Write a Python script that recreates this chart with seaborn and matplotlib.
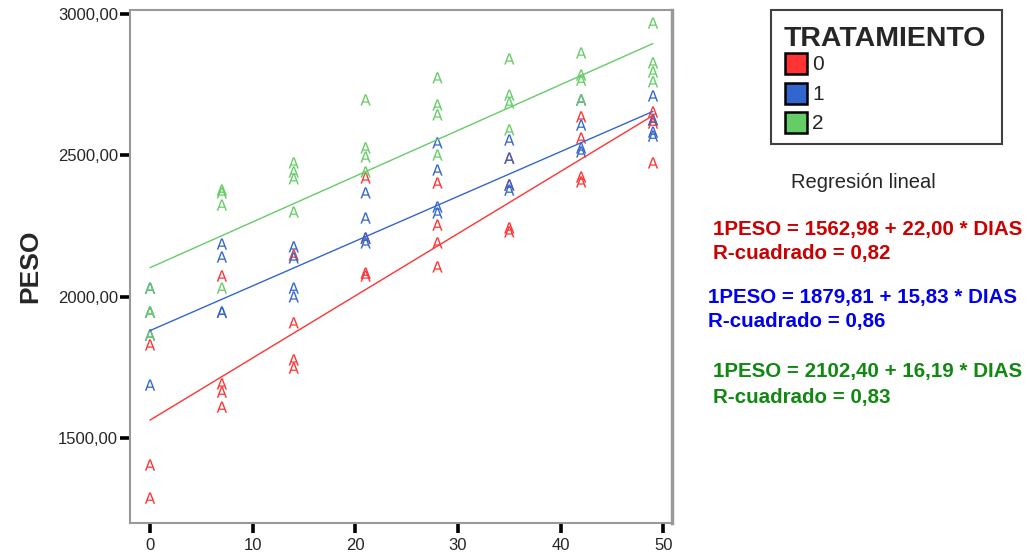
import pandas as pd
import numpy as np
import matplotlib
matplotlib.use('Agg')
import matplotlib.pyplot as plt
from matplotlib.patches import Rectangle
import seaborn as sns

# dias de medicion
dias = [0, 7, 14, 21, 28, 35, 42, 49]

# PESO, una lista por dia
peso_t0 = [
    [1829, 1404, 1287],
    [2073, 1691, 1662, 1609],
    [2147, 1907, 1776, 1747],
    [2420, 2207, 2083, 2073],
    [2402, 2253, 2190, 2105],
    [2490, 2395, 2243, 2229],
    [2636, 2561, 2423, 2406],
    [2653, 2625, 2614, 2473],
]
peso_t1 = [
    [2030, 1945, 1864, 1687],
    [2186, 2140, 1945, 1945],
    [2176, 2137, 2030, 1999],
    [2367, 2278, 2207, 2190],
    [2544, 2448, 2317, 2296],
    [2554, 2490, 2395, 2377],
    [2696, 2607, 2526, 2512],
    [2710, 2625, 2582, 2568],
]
peso_t2 = [
    [2030, 1945, 1945, 1864],
    [2377, 2367, 2324, 2030],
    [2473, 2441, 2417, 2299],
    [2696, 2526, 2494, 2441],
    [2774, 2678, 2643, 2501],
    [2841, 2713, 2685, 2590],
    [2862, 2784, 2766, 2696],
    [2968, 2827, 2795, 2760],
]

tratamientos = ['0', '1', '2']
colores = ['#ff3333', '#3366cc', '#66cc66']
colores_texto = ['#cc0000', '#0000ee', '#118811']

# regresion lineal (de las ecuaciones del grafico)
intercepto = [1562.98, 1879.81, 2102.40]
pendiente = [22.00, 15.83, 16.19]

ecuaciones = ['1PESO = 1562,98 + 22,00 * DIAS',
              '1PESO = 1879,81 + 15,83 * DIAS',
              '1PESO = 2102,40 + 16,19 * DIAS']
r2_textos = ['R-cuadrado = 0,82', 'R-cuadrado = 0,86', 'R-cuadrado = 0,83']

yticks = [1500, 2000, 2500, 3000]
xticks = [0, 10, 20, 30, 40, 50]


def armarDatos():
    filas = []
    for trat, pesos in zip(tratamientos, [peso_t0, peso_t1, peso_t2]):
        for d, lista in zip(dias, pesos):
            for p in lista:
                filas.append({'DIAS': d, 'PESO': p, 'TRATAMIENTO': trat})
    return pd.DataFrame(filas)


if __name__ == "__main__":
    sns.set_style('white')
    plt.rcParams['font.family'] = ['Liberation Sans', 'DejaVu Sans']

    data = armarDatos()
    W, H = 1029, 556
    fig = plt.figure(figsize=(W / 100, H / 100), dpi=100)
    ax = fig.add_axes([130 / W, 1 - 523 / H, (672 - 130) / W, (523 - 9.5) / H])

    # lineas de regresion
    for i, trat in enumerate(tratamientos):
        xs = np.array([dias[0], dias[-1]])
        ys = intercepto[i] + pendiente[i] * xs
        sns.lineplot(x=xs, y=ys, color=colores[i], linewidth=1.0, ax=ax)

    sns.scatterplot(data=data, x='DIAS', y='PESO', hue='TRATAMIENTO',
                    palette=dict(zip(tratamientos, colores)),
                    marker='$\\mathsf{A}$', s=65, linewidth=0,
                    legend=False, ax=ax)

    ax.set_xlim(-1.95, 50.85)
    ax.set_ylim(1199, 3016)
    ax.set_xticks(xticks)
    ax.set_xticklabels([str(x) for x in xticks])
    ax.set_yticks(yticks)
    ax.set_yticklabels(['%d,00' % y for y in yticks])
    ax.tick_params(axis='both', direction='out', length=7, width=2.6,
                   color='black', labelsize=12, pad=1.5,
                   bottom=True, left=True)
    ax.tick_params(axis='x', pad=4)
    ax.set_xlabel('')
    ax.set_ylabel('PESO', fontsize=19, fontweight='bold')
    ax.yaxis.set_label_coords(-0.162, 0.5)
    for lado in ['left', 'right', 'top', 'bottom']:
        ax.spines[lado].set_color('#999999')
        ax.spines[lado].set_linewidth(1.5)
    ax.spines['right'].set_linewidth(2.5)

    # leyenda dibujada a mano (pixeles de la figura)
    def fx(px):
        return px / W

    def fy(py):
        return 1 - py / H

    fig.patches.append(Rectangle((fx(771), fy(144)), fx(1002) - fx(771),
                                 fy(10) - fy(144), transform=fig.transFigure,
                                 facecolor='white', edgecolor='#404040',
                                 linewidth=1.5))
    fig.text(fx(784), fy(39), 'TRATAMIENTO', fontsize=20.5, fontweight='bold',
             ha='left', va='center')
    tops = [53, 83, 112]
    for t, c, top in zip(tratamientos, colores, tops):
        fig.patches.append(Rectangle((fx(785), fy(top + 21)), fx(807) - fx(785),
                                     fy(top) - fy(top + 21),
                                     transform=fig.transFigure, facecolor=c,
                                     edgecolor='black', linewidth=1.8))
        fig.text(fx(812), fy(top + 12), t, fontsize=15, ha='left', va='center')

    fig.text(fx(791), fy(182), 'Regresión lineal', fontsize=14.5,
             ha='left', va='center')
    posiciones = [(713, 229, 254), (708, 297, 322), (713, 372, 397)]
    for i, (x0, y1, y2) in enumerate(posiciones):
        fig.text(fx(x0), fy(y1), ecuaciones[i], fontsize=14.8,
                 fontweight='bold', color=colores_texto[i], ha='left', va='center')
        fig.text(fx(x0), fy(y2), r2_textos[i], fontsize=14.8,
                 fontweight='bold', color=colores_texto[i], ha='left', va='center')

    fig.savefig('out.png', dpi=100)
